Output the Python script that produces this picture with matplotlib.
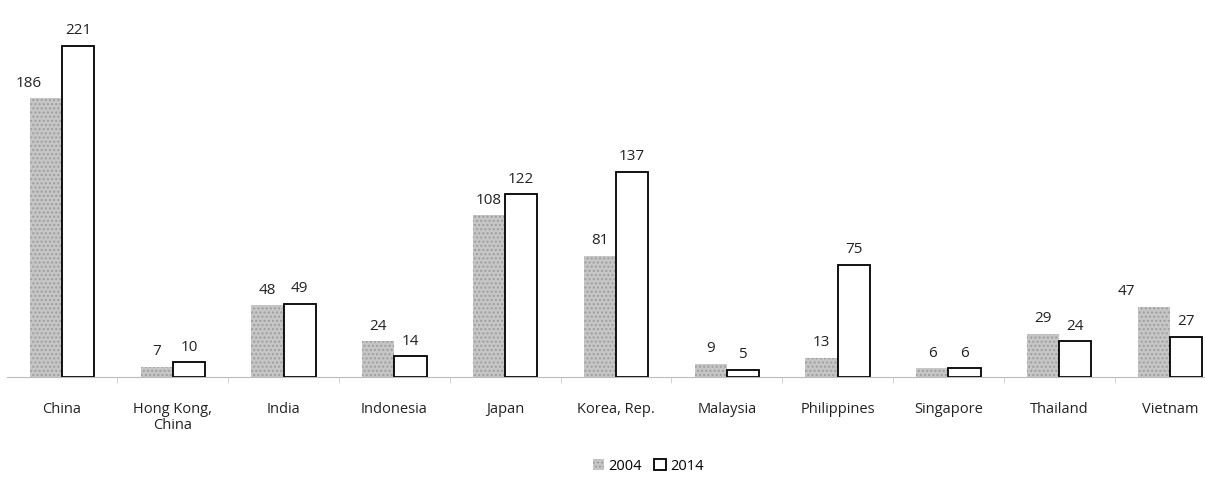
import matplotlib.pyplot as plt
import numpy as np

# values
countries = ['China', 'Hong Kong,\nChina', 'India', 'Indonesia', 'Japan', 'Korea, Rep.',
             'Malaysia', 'Philippines', 'Singapore', 'Thailand', 'Vietnam']
vals_2004 = [186, 7, 48, 24, 108, 81, 9, 13, 6, 29, 47]
vals_2014 = [221, 10, 49, 14, 122, 137, 5, 75, 6, 24, 27]
# some 2004 labels sit left of their bar (pixels)
shift_2004 = {0: -17, 10: -28}

plt.rcParams['font.family'] = ['Open Sans', 'DejaVu Sans']

fig = plt.figure(figsize=(12.05, 4.81), dpi=100)
W, H = 1205, 481
px_unit = 110.8
left_px = 62 - 0.5 * px_unit
ax = fig.add_axes([left_px / W, 103 / H, 11 * px_unit / W, 375 / H])

x = np.arange(len(countries))
bw = 0.29

b1 = ax.bar(x - bw / 2, vals_2004, bw, facecolor='#c6c6c6', edgecolor='#9e9e9e',
            hatch='....', linewidth=0, label='2004')
b2 = ax.bar(x + bw / 2, vals_2014, bw, facecolor='white', edgecolor='black',
            linewidth=1.3, label='2014')

for i, (r, v) in enumerate(zip(b1, vals_2004)):
    ax.annotate(str(v), (r.get_x() + r.get_width() / 2, v), xytext=(shift_2004.get(i, 0), 8),
                textcoords='offset pixels', ha='center', va='bottom', fontsize=11, color='#222222')
for r, v in zip(b2, vals_2014):
    ax.annotate(str(v), (r.get_x() + r.get_width() / 2, v), xytext=(0, 8),
                textcoords='offset pixels', ha='center', va='bottom', fontsize=11, color='#222222')

ax.set_xlim(-0.5, 10.5)
ax.set_ylim(0, 250)
ax.set_yticks([])
for s in ['top', 'right', 'left']:
    ax.spines[s].set_visible(False)
ax.spines['bottom'].set_color('#bbbbbb')
ax.set_xticks(x)
ax.set_xticklabels(countries, fontsize=10.5, color='#222222', va='top', linespacing=1.1)
ax.tick_params(axis='x', length=0, pad=17)
ax.set_xticks(x[:-1] + 0.5, minor=True)
ax.tick_params(axis='x', which='minor', length=4, color='#cccccc')

fig.legend(handles=[b1, b2], labels=['2004', '2014'], loc='center',
           bbox_to_anchor=(648 / W, 1 - 467 / H), ncol=2, frameon=False,
           fontsize=10.5, handlelength=0.8, handleheight=0.8, handletextpad=0.3,
           columnspacing=0.8)

fig.savefig('out.png', dpi=100)
